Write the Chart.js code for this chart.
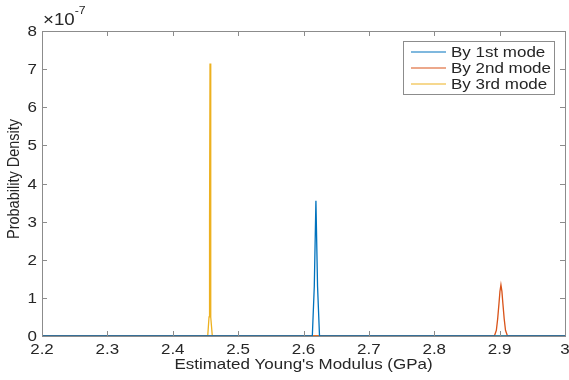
<!DOCTYPE html>
<html>
<head>
<meta charset="utf-8">
<script src="https://cdn.jsdelivr.net/npm/chart.js@4/dist/chart.umd.min.js"></script>
<style>
  html, body { margin: 0; padding: 0; background: #fff; }
  #wrap { width: 569px; height: 380px; }
</style>
</head>
<body>
<div id="wrap"><canvas id="cnv" width="569" height="380"></canvas></div>
<script>
// density values are in units of 1e-7 (the axis shows "x10^-7")
const labels = ['By 1st mode', 'By 2nd mode', 'By 3rd mode'];
const colors = ['#0072BD', '#D95319', '#EDB120'];

const mode1X = [2.2, 2.6135, 2.6165, 2.619, 2.6215, 2.6245, 3.0];
const mode1Y = [0, 0, 1.3, 3.55, 1.3, 0, 0];

const mode2X = [2.2, 2.892, 2.895, 2.897, 2.899, 2.9005, 2.902, 2.9035, 2.905, 2.907, 2.909, 2.912, 3.0];
const mode2Y = [0, 0, 0.15, 0.45, 0.85, 1.17, 1.34, 1.17, 0.85, 0.45, 0.15, 0, 0];

const mode3X = [2.2, 2.4535, 2.4555, 2.4563, 2.457, 2.4577, 2.4585, 2.4605, 3.0];
const mode3Y = [0, 0, 0.5, 3.0, 7.15, 3.0, 0.5, 0, 0];

const xTicks = [2.2, 2.3, 2.4, 2.5, 2.6, 2.7, 2.8, 2.9, 3.0];
const yTicks = [0, 1, 2, 3, 4, 5, 6, 7, 8];
const xTitle = "Estimated Young's Modulus (GPa)";
const yTitle = 'Probability Density';

const FONT = '"Liberation Sans", Arial, Helvetica, sans-serif';
const AXIS = '#8c8c8c';
const TEXT = '#262626';
const STRETCH = 1.17; // the reference text is a bit wide

function pts(xs, ys) { return xs.map((x, i) => ({ x: x, y: ys[i] })); }

function text(ctx, s, x, y, opt) {
  ctx.save();
  ctx.translate(x, y);
  ctx.scale(STRETCH, 1);
  if (opt.rot) ctx.rotate(opt.rot);
  ctx.font = opt.size + 'px ' + FONT;
  ctx.textAlign = opt.align || 'left';
  ctx.textBaseline = opt.base || 'alphabetic';
  ctx.fillStyle = TEXT;
  ctx.fillText(s, 0, 0);
  const w = ctx.measureText(s).width * STRETCH;
  ctx.restore();
  return w;
}

// MATLAB style box with inward ticks, labels, exponent and legend
const boxPlugin = {
  id: 'box',
  afterDraw(chart) {
    const ctx = chart.ctx;
    const a = chart.chartArea;
    const xs = chart.scales.x, ys = chart.scales.y;
    ctx.save();
    ctx.strokeStyle = AXIS;
    ctx.lineWidth = 1;
    ctx.strokeRect(a.left + 0.5, a.top + 0.5, a.right - a.left, a.bottom - a.top);
    const tl = 5;
    ctx.beginPath();
    xTicks.forEach(v => {
      const px = Math.round(xs.getPixelForValue(v)) + 0.5;
      ctx.moveTo(px, a.bottom); ctx.lineTo(px, a.bottom - tl);
      ctx.moveTo(px, a.top); ctx.lineTo(px, a.top + tl);
    });
    yTicks.forEach(v => {
      const py = Math.round(ys.getPixelForValue(v)) + 0.5;
      ctx.moveTo(a.left, py); ctx.lineTo(a.left + tl, py);
      ctx.moveTo(a.right, py); ctx.lineTo(a.right - tl, py);
    });
    ctx.stroke();
    ctx.restore();

    xTicks.forEach(v => {
      text(ctx, String(Math.round(v * 10) / 10), xs.getPixelForValue(v), a.bottom + 7,
           { size: 14.5, align: 'center', base: 'top' });
    });
    yTicks.forEach(v => {
      text(ctx, String(v), a.left - 5, ys.getPixelForValue(v) + 1,
           { size: 14.5, align: 'right', base: 'middle' });
    });
    text(ctx, xTitle, (a.left + a.right) / 2, 369, { size: 14.5, align: 'center' });
    text(ctx, yTitle, 19, 179, { size: 14.5, align: 'center', rot: -Math.PI / 2 });

    // exponent
    const w = text(ctx, '\u00d710', a.left + 1, a.top - 6, { size: 16 });
    text(ctx, '-7', a.left + 1 + w, a.top - 17, { size: 10.5 });

    // legend
    const lx = 403, ly = 41, lw = 151, lh = 53;
    ctx.save();
    ctx.fillStyle = '#fff';
    ctx.fillRect(lx, ly, lw, lh);
    ctx.strokeStyle = AXIS;
    ctx.strokeRect(lx + 0.5, ly + 0.5, lw, lh);
    chart.data.datasets.forEach((ds, i) => {
      const y = ly + 11 + i * 16;
      ctx.strokeStyle = ds.borderColor;
      ctx.lineWidth = 1.2;
      ctx.beginPath();
      ctx.moveTo(lx + 8, y); ctx.lineTo(lx + 43, y);
      ctx.stroke();
      text(ctx, ds.label, lx + 48, y + 1, { size: 14.5, base: 'middle' });
    });
    ctx.restore();
  }
};

new Chart(document.getElementById('cnv'), {
  type: 'scatter',
  data: {
    datasets: [
      { label: labels[0], data: pts(mode1X, mode1Y), borderColor: colors[0] },
      { label: labels[1], data: pts(mode2X, mode2Y), borderColor: colors[1] },
      { label: labels[2], data: pts(mode3X, mode3Y), borderColor: colors[2] }
    ].map(d => Object.assign(d, { showLine: true, pointRadius: 0, borderWidth: 1.3, tension: 0, fill: false }))
  },
  options: {
    responsive: false,
    animation: false,
    layout: { padding: { top: 31, right: 4, left: 0, bottom: 0 } },
    plugins: { legend: { display: false }, tooltip: { enabled: false } },
    scales: {
      x: {
        type: 'linear', min: 2.2, max: 3.0,
        afterBuildTicks: s => { s.ticks = xTicks.map(v => ({ value: v })); },
        afterFit: s => { s.height = 44; s.paddingLeft = 0; s.paddingRight = 0; },
        grid: { display: false, drawTicks: false },
        border: { display: false },
        ticks: { display: false }
      },
      y: {
        type: 'linear', min: 0, max: 8,
        afterBuildTicks: s => { s.ticks = yTicks.map(v => ({ value: v })); },
        afterFit: s => { s.width = 42; s.paddingTop = 0; s.paddingBottom = 0; },
        grid: { display: false, drawTicks: false },
        border: { display: false },
        ticks: { display: false }
      }
    }
  },
  plugins: [boxPlugin]
});
</script>
</body>
</html>
